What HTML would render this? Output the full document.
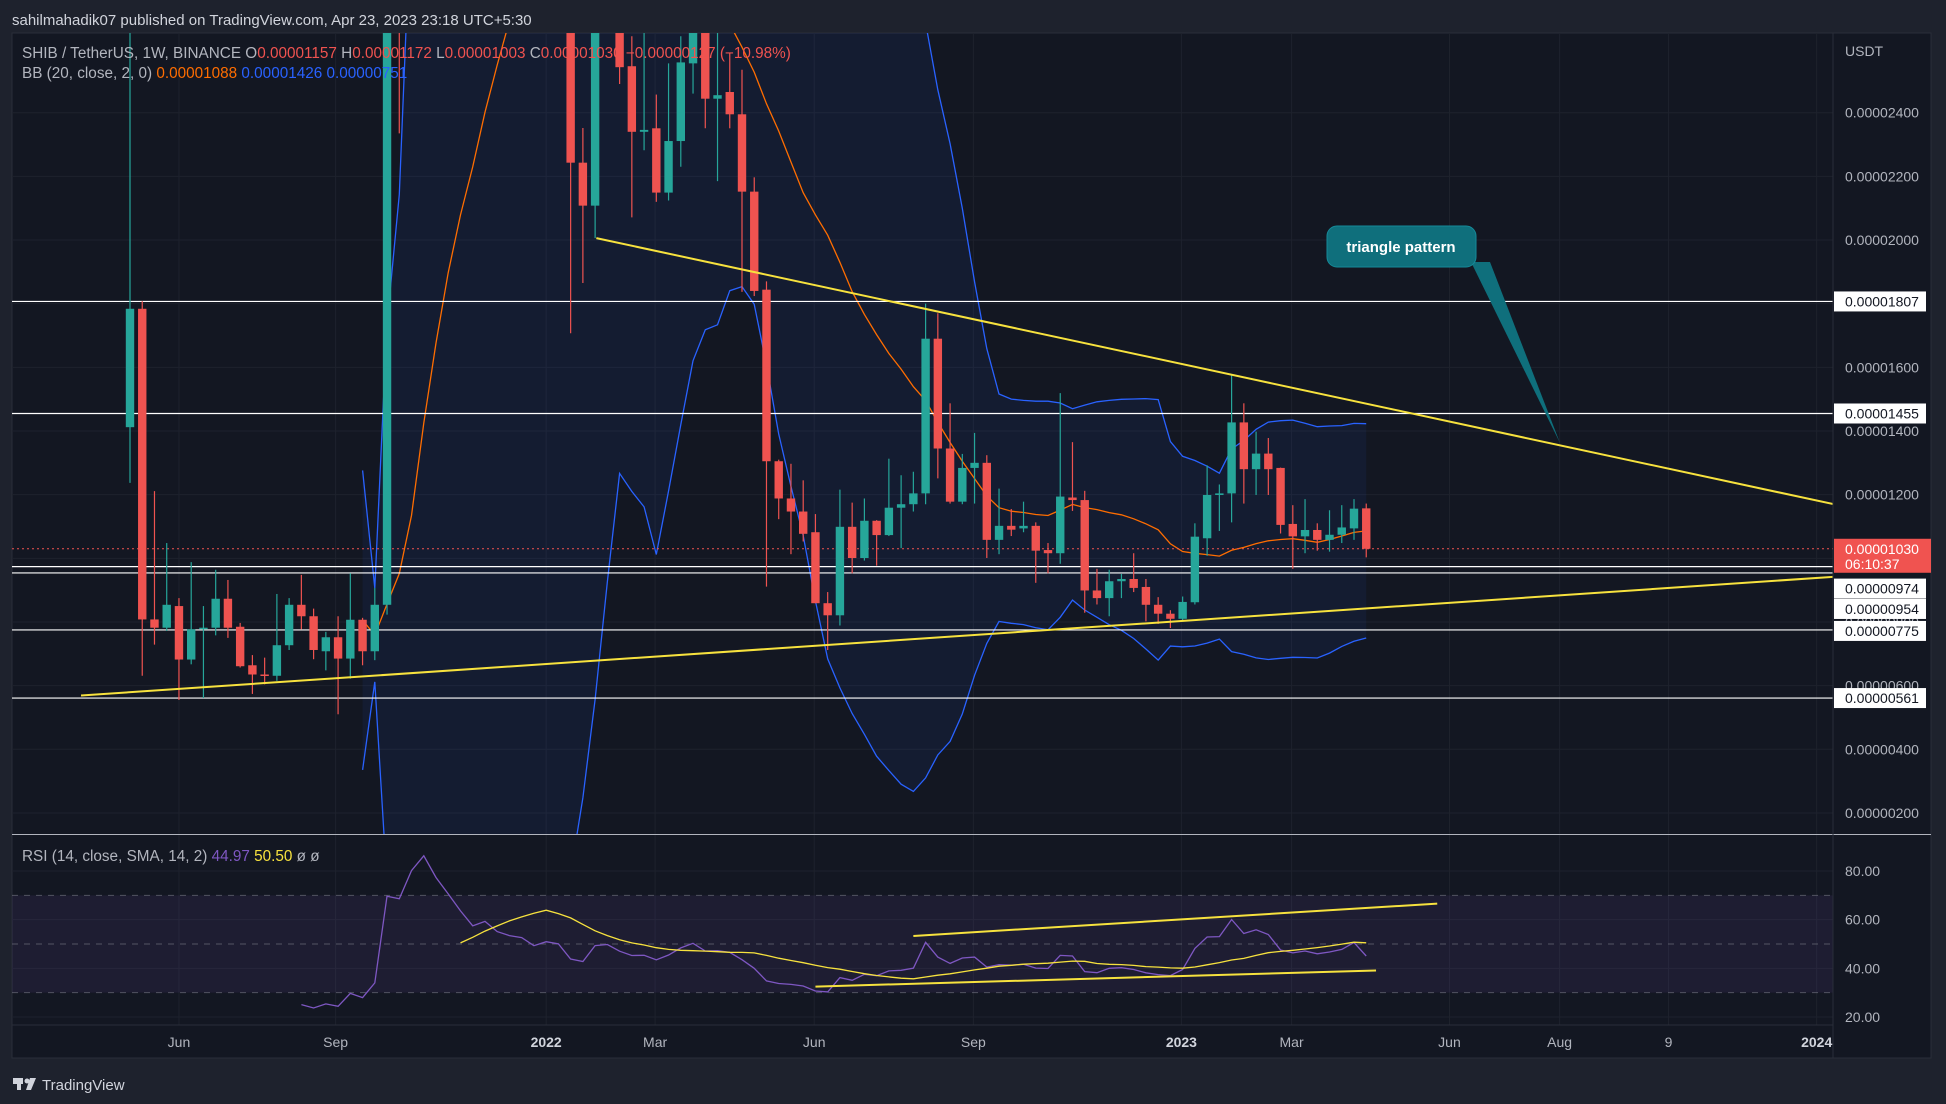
<!DOCTYPE html>
<html><head><meta charset="utf-8"><style>
html,body{margin:0;padding:0;background:#1e222d;width:1946px;height:1104px;overflow:hidden}
svg{display:block;font-family:"Liberation Sans",sans-serif;overflow:hidden}
</style></head><body>
<svg id="chart" width="1946" height="1104" xmlns="http://www.w3.org/2000/svg">
<defs>
<clipPath id="mainClip"><rect x="12" y="33" width="1821" height="801"/></clipPath>
<clipPath id="rsiClip"><rect x="12" y="836" width="1821" height="189"/></clipPath>
</defs>
<rect x="0" y="0" width="1946" height="1104" fill="#1e222d"/>
<rect x="12" y="33" width="1919" height="1025" fill="#131722" stroke="#2a2e39"/>
<text x="12" y="25" fill="#d1d4dc" font-size="15">sahilmahadik07 published on TradingView.com, Apr 23, 2023 23:18 UTC+5:30</text>
<g id="grid"></g>
<g id="bb" clip-path="url(#mainClip)"></g>
<g id="levels"></g>
<g id="candles" clip-path="url(#mainClip)"></g>
<g id="trend" clip-path="url(#mainClip)"></g>
<g id="rsi" clip-path="url(#rsiClip)"></g>
<g id="axes"></g>
<g font-size="15.3" xml:space="preserve">
<text x="22" y="58"><tspan fill="#b2b5be">SHIB / TetherUS, 1W, BINANCE  O</tspan><tspan fill="#f05350">0.00001157</tspan><tspan fill="#b2b5be">  H</tspan><tspan fill="#f05350">0.00001172</tspan><tspan fill="#b2b5be">  L</tspan><tspan fill="#f05350">0.00001003</tspan><tspan fill="#b2b5be">  C</tspan><tspan fill="#f05350">0.00001030  −0.00000127  (−10.98%)</tspan></text>
<text x="22" y="78"><tspan fill="#b2b5be">BB (20, close, 2, 0)  </tspan><tspan fill="#ff6d00">0.00001088</tspan><tspan fill="#2962ff">  0.00001426  0.00000751</tspan></text>
<text x="22" y="861"><tspan fill="#b2b5be">RSI (14, close, SMA, 14, 2)  </tspan><tspan fill="#7e57c2">44.97</tspan><tspan fill="#f7e23e">  50.50</tspan><tspan fill="#b2b5be">  ø  ø</tspan></text>
</g>
<g>
<polygon points="1471,262 1490,262 1560,443" fill="#0f6f7c"/>
<rect x="1327" y="226" width="149" height="41" rx="10" fill="#0f6f7c" stroke="#168a99"/>
<text x="1401" y="252" fill="#ffffff" font-size="15" font-weight="bold" text-anchor="middle">triangle pattern</text>
</g>
<g>
<rect x="13" y="1078" width="10" height="6" fill="#d1d4dc"/>
<rect x="17" y="1078" width="4" height="12" fill="#d1d4dc"/>
<circle cx="27" cy="1081" r="2.5" fill="#d1d4dc"/>
<polygon points="30,1078 36,1078 31,1090 26,1090" fill="#d1d4dc"/>
<text x="42" y="1090" fill="#d1d4dc" font-size="15">TradingView</text>
</g>
</svg>
<script>
const opens=[14.12,17.84,8.08,7.82,8.50,6.82,7.78,7.82,8.73,7.85,6.64,6.35,6.31,7.27,8.54,8.18,7.08,7.52,6.85,8.07,7.08,8.54,27.5,27.0,45,65,58,52,45,38,41,36,34,33,29,31,30,22.43,21.08,28,28.5,25.46,23.40,23.51,21.49,23.11,25.55,27.2,24.44,24.65,23.95,21.52,18.44,13.05,11.88,11.47,10.82,8.59,8.21,10.99,10.01,11.18,10.73,11.59,11.70,12.04,16.90,13.45,11.78,12.84,13.0,10.58,11.02,10.94,11.02,10.26,10.16,11.91,11.83,8.99,8.75,9.28,9.35,9.10,8.54,8.26,8.10,8.62,10.63,11.99,12.04,14.27,12.80,13.29,12.84,11.08,10.69,10.89,10.58,10.74,10.94,11.57];
const highs=[35,18.08,12.11,10.48,8.75,9.88,8.50,9.64,9.32,7.97,6.96,6.88,8.88,8.75,9.48,8.42,7.69,8.18,9.53,8.13,9.07,30,29.5,47,88,68,60,54,47,47,43,39,37,34,33,32,31,23.52,30,30,29,26.4,28,24.57,25.55,26.4,28.5,28,27.5,25.87,25.35,21.97,18.7,13.1,12.97,12.45,11.39,8.94,12.16,11.75,11.88,11.2,13.13,12.61,12.72,18.0,17.7,14.87,13.28,13.94,13.24,12.19,11.55,11.78,11.13,10.48,15.19,13.65,12.12,9.67,9.64,9.51,10.16,9.35,8.78,8.37,8.80,11.10,12.92,12.32,15.76,14.87,13.98,13.78,12.85,11.67,11.86,11.10,11.51,11.67,11.86,11.72];
const lows=[12.37,6.31,7.29,7.72,5.55,6.67,5.61,7.58,7.50,6.57,5.74,6.04,6.15,7.12,7.77,6.83,6.48,5.10,6.22,6.64,6.80,8.23,23.35,26.8,42,52,48,42,36,34,32,31,30,27.5,27.5,27.5,17.07,18.65,20.06,27,24.9,20.71,22.82,21.2,21.24,22.30,24.6,23.51,21.85,23.51,18.37,18.24,9.11,11.23,10.13,10.53,8.59,7.12,7.89,9.53,9.93,9.77,10.7,10.32,11.47,11.70,12.51,11.72,11.70,11.72,10.01,10.13,10.70,10.82,9.23,9.53,9.83,11.49,8.29,8.55,8.18,8.75,8.94,8.02,7.94,7.81,8.02,8.55,10.08,10.86,11.13,11.72,11.99,11.99,10.78,9.67,10.16,10.24,10.21,10.48,10.58,10.03];
const closes=[17.84,8.08,7.82,8.54,6.82,7.77,7.82,8.73,7.82,6.61,6.35,6.31,7.27,8.54,8.18,7.12,7.52,6.85,8.07,7.08,8.54,27.5,27.0,45,65,58,52,45,38,41,36,34,33,29,31,30,22.43,21.08,28,28.5,25.43,23.40,23.46,21.49,23.11,25.58,27.2,24.44,24.55,23.95,21.52,18.40,13.05,11.88,11.47,10.77,8.59,8.21,10.99,10.01,11.18,10.73,11.59,11.70,12.04,16.90,13.45,11.78,12.84,13.0,10.58,11.02,10.90,11.02,10.24,10.16,11.94,11.83,8.99,8.75,9.28,9.35,9.07,8.54,8.26,8.10,8.63,10.68,11.99,12.04,14.27,12.80,13.29,12.80,11.05,10.69,10.89,10.58,10.74,10.97,11.56,10.30];
const priceTicks=[24,22,20,18,16,14,12,10,8,6,4,2];
const rsiTicks=[80,60,40,20];
const levelValues=[18.07,14.55,9.74,9.54,7.75,5.61];
const levelTagShift=[0,0,22,36,1,0];
const lastPrice=10.30;
const timeLabels=["Jun","Sep","2022","Mar","Jun","Sep","2023","Mar","Jun","Aug","9","2024"];
const timeWeeks=[4.0,16.8,34.0,42.9,55.9,68.9,85.9,94.9,107.8,116.8,125.7,137.8];
const upperTrend=[[38.1,20.06],[139.2,11.70]];
const lowerTrend=[[-4,5.69],[139.2,9.42]];
const rsiTrendA=[[64.0,53.3],[106.8,66.6]];
const rsiTrendB=[[56.0,32.5],[101.8,39.1]];

const NS="http://www.w3.org/2000/svg";
const X0=130, DX=12.24;
function xOf(i){return X0+i*DX;}
function yP(v){return 112.7+(24-v)*31.83;}
function yR(r){return 871+(80-r)*2.433;}
function mk(tag,attrs,parent){const e=document.createElementNS(NS,tag);for(const k in attrs)e.setAttribute(k,attrs[k]);parent.appendChild(e);return e;}
function fmt(v){return (v*1e-6).toFixed(8);}

const grid=document.getElementById('grid');
priceTicks.forEach(v=>{const l=mk('line',{x1:12,x2:1833,y1:yP(v),y2:yP(v),stroke:'#1e222d','stroke-width':1},grid);

});
rsiTicks.forEach(v=>{const l=mk('line',{x1:12,x2:1833,y1:yR(v),y2:yR(v),stroke:'#1e222d','stroke-width':1},grid);

});
timeWeeks.forEach(w=>{const l=mk('line',{x1:xOf(w),x2:xOf(w),y1:33,y2:1025,stroke:'#1e222d','stroke-width':1},grid);

});

const bb=document.getElementById('bb');
const basis=[],up=[],lo=[];
for(let i=0;i<closes.length;i++){if(i<19){basis.push(null);up.push(null);lo.push(null);continue;}
let s=0;for(let j=i-19;j<=i;j++)s+=closes[j];const m=s/20;let q=0;for(let j=i-19;j<=i;j++)q+=(closes[j]-m)**2;const sd=Math.sqrt(q/20);
basis.push(m);up.push(m+2*sd);lo.push(m-2*sd);}
function clampY(y){return Math.max(-3000,Math.min(4000,y));}
let fillPts=[];for(let i=19;i<closes.length;i++)fillPts.push(xOf(i)+','+clampY(yP(up[i])));
for(let i=closes.length-1;i>=19;i--)fillPts.push(xOf(i)+','+clampY(yP(lo[i])));
const bf=mk('polygon',{points:fillPts.join(' '),fill:'rgba(41,98,255,0.07)'},bb);


function series(arr,color,name,par,yf,start){let d='';for(let i=start;i<arr.length;i++){if(arr[i]==null)continue;d+=(d?'L':'M')+xOf(i).toFixed(1)+' '+clampY(yf(arr[i])).toFixed(1);}
const p=mk('path',{d:d,fill:'none',stroke:color,'stroke-width':1.3},par);

return p;}
series(up,'#2962ff','bb-upper',bb,yP,19);
series(lo,'#2962ff','bb-lower',bb,yP,19);
series(basis,'#ff6d00','bb-basis',bb,yP,19);

const lv=document.getElementById('levels');
levelValues.forEach(v=>{const l=mk('line',{x1:12,x2:1833,y1:yP(v),y2:yP(v),stroke:'#ffffff','stroke-width':1.2},lv);

});
const cp=mk('line',{x1:12,x2:1833,y1:yP(lastPrice),y2:yP(lastPrice),stroke:'#f05350','stroke-width':1,'stroke-dasharray':'2 3'},lv);



const cg=document.getElementById('candles');
for(let i=0;i<closes.length;i++){const x=xOf(i);const upC=closes[i]>=opens[i];const col=upC?'#26a69a':'#ef5350';
const w=mk('line',{x1:x,x2:x,y1:yP(highs[i]),y2:yP(lows[i]),stroke:col,'stroke-width':1.2},cg);


const t=yP(Math.max(opens[i],closes[i])),b=yP(Math.min(opens[i],closes[i]));
const r=mk('rect',{x:x-4.2,y:t,width:8.4,height:Math.max(1.5,b-t),fill:col},cg);

}

const tg=document.getElementById('trend');
[upperTrend,lowerTrend].forEach((tl,k)=>{const l=mk('line',{x1:xOf(tl[0][0]),y1:yP(tl[0][1]),x2:xOf(tl[1][0]),y2:yP(tl[1][1]),stroke:'#f7e23e','stroke-width':2},tg);

});

const rg=document.getElementById('rsi');
const band=mk('rect',{x:12,y:yR(70),width:1821,height:yR(30)-yR(70),fill:'rgba(126,87,194,0.1)'},rg);


[70,50,30].forEach(v=>{const l=mk('line',{x1:12,x2:1833,y1:yR(v),y2:yR(v),stroke:'#787b86','stroke-width':1,'stroke-dasharray':'6 6','stroke-opacity':0.6},rg);

});
const rsiV=new Array(closes.length).fill(null);
let ag=0,al=0;
for(let i=1;i<closes.length;i++){const ch=closes[i]-closes[i-1];const g=Math.max(ch,0),ls=Math.max(-ch,0);
if(i<=14){ag+=g/14;al+=ls/14;if(i===14)rsiV[i]=100-100/(1+ag/al);}
else{ag=(ag*13+g)/14;al=(al*13+ls)/14;rsiV[i]=al===0?100:100-100/(1+ag/al);}}
const rsiMa=new Array(closes.length).fill(null);
for(let i=27;i<closes.length;i++){let s=0;for(let j=i-13;j<=i;j++)s+=rsiV[j];rsiMa[i]=s/14;}
series(rsiV,'#7e57c2','rsi-line',rg,yR,14);
series(rsiMa,'#f7e23e','rsi-sma-line',rg,yR,27);
[rsiTrendA,rsiTrendB].forEach((tl,k)=>{const l=mk('line',{x1:xOf(tl[0][0]),y1:yR(tl[0][1]),x2:xOf(tl[1][0]),y2:yR(tl[1][1]),stroke:'#f7e23e','stroke-width':2},rg);

});

const ax=document.getElementById('axes');
const sep=mk('line',{x1:12,x2:1931,y1:834.5,y2:834.5,stroke:'#b2b5be','stroke-width':1},ax);


const rb=mk('line',{x1:1833,x2:1833,y1:33,y2:1058,stroke:'#2a2e39','stroke-width':1},ax);


const tb=mk('line',{x1:12,x2:1833,y1:1025,y2:1025,stroke:'#2a2e39','stroke-width':1},ax);


const ut=mk('text',{x:1845,y:56,fill:'#b2b5be','font-size':14},ax);ut.textContent='USDT';


priceTicks.forEach(v=>{const t=mk('text',{x:1845,y:yP(v)+5,fill:'#b2b5be','font-size':14},ax);t.textContent=fmt(v);

});
rsiTicks.forEach(v=>{const t=mk('text',{x:1845,y:yR(v)+5,fill:'#b2b5be','font-size':14},ax);t.textContent=v.toFixed(2);

});
timeLabels.forEach((s,k)=>{const bold=/^\d{4}$/.test(s);const t=mk('text',{x:xOf(timeWeeks[k]),y:1047,fill:bold?'#d1d4dc':'#b2b5be','font-size':14,'text-anchor':'middle','font-weight':bold?'bold':'normal'},ax);t.textContent=s;

});
levelValues.forEach((v,k)=>{const y=yP(v)+levelTagShift[k];const r=mk('rect',{x:1834,y:y-10,width:92,height:20,fill:'#ffffff'},ax);


const t=mk('text',{x:1845,y:y+5,fill:'#131722','font-size':14},ax);t.textContent=fmt(v);

});
const ly=yP(lastPrice);
const lr=mk('rect',{x:1834,y:ly-10,width:97,height:34,fill:'#f05350'},ax);


const lt=mk('text',{x:1845,y:ly+5,fill:'#ffffff','font-size':14},ax);lt.textContent=fmt(lastPrice);


const lc=mk('text',{x:1845,y:ly+20,fill:'#ffffff','font-size':14},ax);lc.textContent='06:10:37';


</script>
</body></html>
